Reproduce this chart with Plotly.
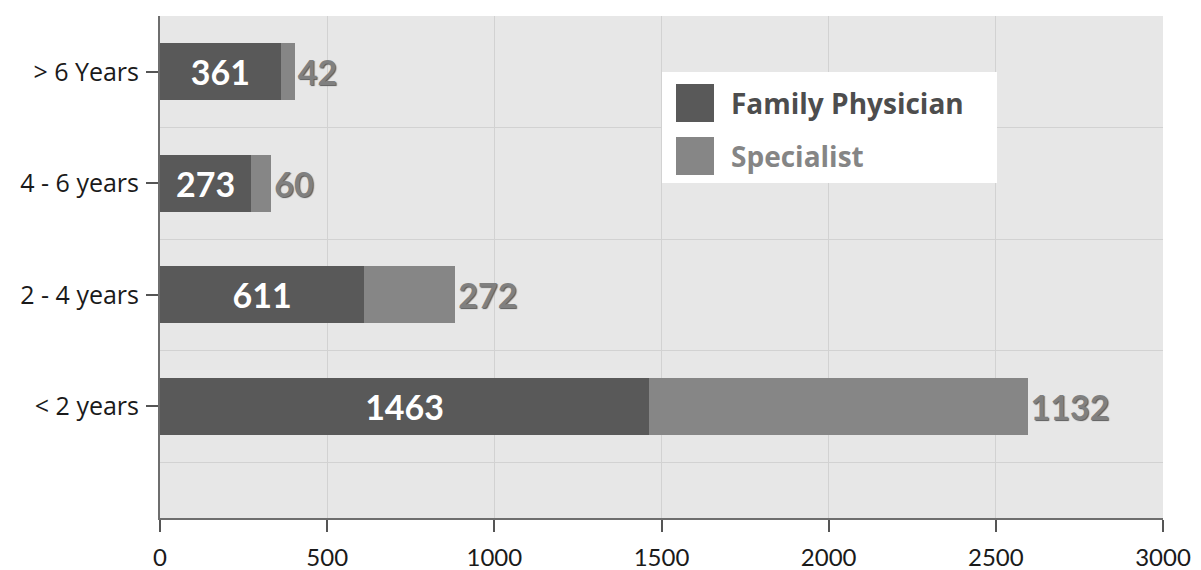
import plotly.graph_objects as go

# data, top row first
categories = ['> 6 Years', '4 - 6 years', '2 - 4 years', '< 2 years']
family_physician = [361, 273, 611, 1463]
specialist = [42, 60, 272, 1132]
x_ticks = [0, 500, 1000, 1500, 2000, 2500, 3000]

DARK = '#595959'
LIGHT = '#868686'
FONT = 'Lato'
FONT2 = 'Open Sans'

rows = list(range(len(categories)))

fig = go.Figure()

fig.add_trace(go.Bar(
    y=rows, x=family_physician, orientation='h', name='Family Physician',
    marker=dict(color=DARK, line=dict(width=0)),
    width=0.51,
    text=family_physician, textposition='inside', insidetextanchor='middle',
    textfont=dict(family=FONT, size=34, color='white', weight='bold'),
    showlegend=False,
))
fig.add_trace(go.Bar(
    y=rows, x=specialist, orientation='h', name='Specialist',
    marker=dict(color=LIGHT, line=dict(width=0)),
    width=0.51,
    text=specialist, textposition='outside', cliponaxis=False,
    textfont=dict(family=FONT, size=34, color='#808080', weight='bold',
                  shadow='1px 1px 1px #5a5a5a'),
    showlegend=False,
))

# legend drawn by hand (big swatches)
def px_x(p):
    return (p - 160) / 1003

def px_y(p):
    return (518 - p) / 502

fig.add_shape(type='rect', xref='paper', yref='paper',
              x0=px_x(662), x1=px_x(997), y0=px_y(183), y1=px_y(72),
              fillcolor='white', line=dict(width=0), layer='above')
for name, col, txtcol, top in [('Family Physician', DARK, '#4d4d4d', 84),
                                ('Specialist', LIGHT, '#858585', 137)]:
    fig.add_shape(type='rect', xref='paper', yref='paper',
                  x0=px_x(676), x1=px_x(714), y0=px_y(top + 38), y1=px_y(top),
                  fillcolor=col, line=dict(width=0), layer='above')
    fig.add_annotation(xref='paper', yref='paper', x=px_x(729), y=px_y(top + 19),
                       text=name, showarrow=False, xanchor='left', yanchor='middle',
                       font=dict(family=FONT2, size=28, color=txtcol, weight='bold'))

fig.update_layout(
    width=1201, height=570,
    margin=dict(l=160, r=38, t=16, b=52),
    barmode='stack',
    plot_bgcolor='#e7e7e7',
    paper_bgcolor='white',
    font=dict(family=FONT, size=22, color='#1a1a1a'),
    xaxis=dict(
        range=[0, 3000], tickvals=x_ticks, showgrid=True, gridcolor='#d2d2d2',
        gridwidth=1, zeroline=False, automargin=False,
        showline=True, linecolor='#6e6e6e', linewidth=2,
        ticks='outside', ticklen=12, tickwidth=2, tickcolor='#555',
        tickfont=dict(size=24), ticklabelstandoff=5,
    ),
    yaxis=dict(
        range=[4.0, -0.5], tickvals=rows, ticktext=categories,
        showgrid=False, zeroline=False, automargin=False,
        showline=True, linecolor='#6e6e6e', linewidth=2,
        ticks='outside', ticklen=12, tickwidth=1.5, tickcolor='#555',
        tickfont=dict(family=FONT2, size=25), ticklabelstandoff=2,
        minor=dict(tickvals=[r + 0.5 for r in [-1] + rows], showgrid=True,
                   gridcolor='#d2d2d2', gridwidth=1, ticks=''),
    ),
)

fig.write_html("out.html", config={'displayModeBar': False},
               post_script="document.body.style.margin='0';")
